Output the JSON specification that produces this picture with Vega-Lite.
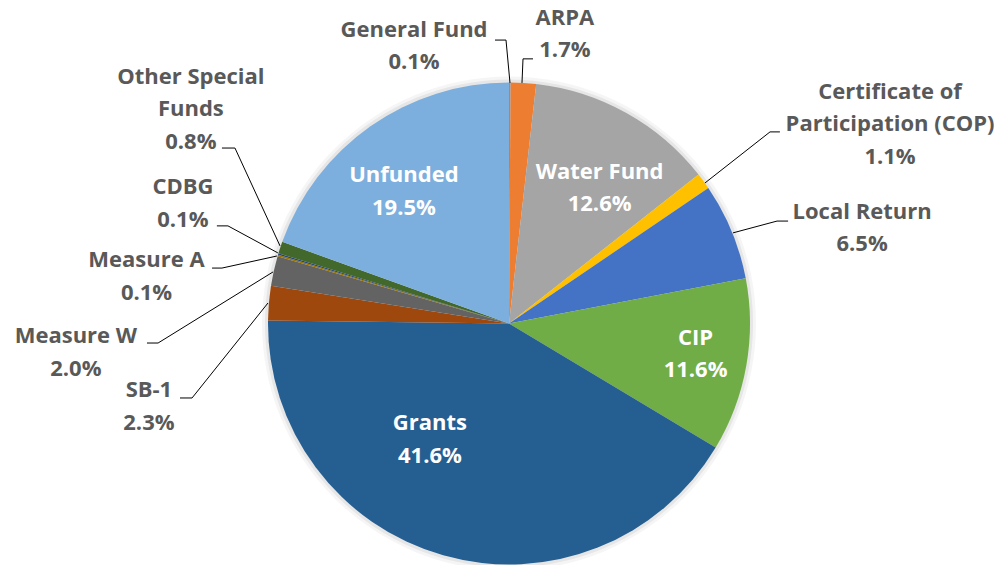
{
  "$schema": "https://vega.github.io/schema/vega-lite/v6.json",
  "width": 980,
  "height": 483,
  "padding": {"left": 19, "top": 82, "right": 0, "bottom": 0},
  "autosize": {"type": "none"},
  "background": "white",
  "config": {"view": {"stroke": null}},
  "datasets": {
    "funds": [
      {"idx": 1, "name": "General Fund", "display": "General Fund", "value": 0.1, "lx": -39.4, "ly": 121.8, "inside": false},
      {"idx": 2, "name": "ARPA", "display": "ARPA", "value": 1.7, "lx": 23.2, "ly": 126.8, "inside": false},
      {"idx": 3, "name": "Water Fund", "display": "Water Fund", "value": 12.6, "lx": 37.6, "ly": 62.9, "inside": true},
      {"idx": 4, "name": "Certificate of Participation (COP)", "display": "Certificate of\nParticipation (COP)", "value": 1.1, "lx": 158.1, "ly": 96.1, "inside": false},
      {"idx": 5, "name": "Local Return", "display": "Local Return", "value": 6.5, "lx": 146.5, "ly": 46.3, "inside": false},
      {"idx": 6, "name": "CIP", "display": "CIP", "value": 11.6, "lx": 77.4, "ly": -6.0, "inside": true},
      {"idx": 7, "name": "Grants", "display": "Grants", "value": 41.6, "lx": -32.8, "ly": -41.3, "inside": true},
      {"idx": 8, "name": "SB-1", "display": "SB-1", "value": 2.3, "lx": -149.4, "ly": -27.6, "inside": false},
      {"idx": 9, "name": "Measure W", "display": "Measure W", "value": 2.0, "lx": -179.7, "ly": -5.2, "inside": false},
      {"idx": 10, "name": "Measure A", "display": "Measure A", "value": 0.1, "lx": -150.4, "ly": 26.3, "inside": false},
      {"idx": 11, "name": "CDBG", "display": "CDBG", "value": 0.1, "lx": -135.3, "ly": 56.6, "inside": false},
      {"idx": 12, "name": "Other Special Funds", "display": "Other Special\nFunds", "value": 0.8, "lx": -132.0, "ly": 102.3, "inside": false},
      {"idx": 13, "name": "Unfunded", "display": "Unfunded", "value": 19.5, "lx": -43.6, "ly": 61.6, "inside": true}
    ],
    "leaders": [
      {"name": "General Fund", "seq": 1, "x": -5.81, "y": 117.6},
      {"name": "General Fund", "seq": 2, "x": -1.24, "y": 117.6},
      {"name": "General Fund", "seq": 3, "x": 0.41, "y": 99.8},
      {"name": "ARPA", "seq": 1, "x": 9.96, "y": 109.8},
      {"name": "ARPA", "seq": 2, "x": 5.81, "y": 109.8},
      {"name": "ARPA", "seq": 3, "x": 5.39, "y": 99.8},
      {"name": "Certificate of Participation (COP)", "seq": 1, "x": 112.4, "y": 79.5},
      {"name": "Certificate of Participation (COP)", "seq": 2, "x": 108.3, "y": 79.5},
      {"name": "Certificate of Participation (COP)", "seq": 3, "x": 81.3, "y": 58.3},
      {"name": "Local Return", "seq": 1, "x": 115.8, "y": 42.5},
      {"name": "Local Return", "seq": 2, "x": 111.2, "y": 42.5},
      {"name": "Local Return", "seq": 3, "x": 92.9, "y": 37.6},
      {"name": "Other Special Funds", "seq": 1, "x": -119.1, "y": 72.8},
      {"name": "Other Special Funds", "seq": 2, "x": -113.7, "y": 72.8},
      {"name": "Other Special Funds", "seq": 3, "x": -95.0, "y": 32.2},
      {"name": "CDBG", "seq": 1, "x": -121.2, "y": 40.5},
      {"name": "CDBG", "seq": 2, "x": -116.6, "y": 40.5},
      {"name": "CDBG", "seq": 3, "x": -95.9, "y": 29.3},
      {"name": "Measure A", "seq": 1, "x": -123.2, "y": 23.0},
      {"name": "Measure A", "seq": 2, "x": -119.1, "y": 23.0},
      {"name": "Measure A", "seq": 3, "x": -96.3, "y": 28.0},
      {"name": "Measure W", "seq": 1, "x": -150.2, "y": -8.1},
      {"name": "Measure W", "seq": 2, "x": -145.6, "y": -8.1},
      {"name": "Measure W", "seq": 3, "x": -97.9, "y": 21.4},
      {"name": "SB-1", "seq": 1, "x": -136.5, "y": -30.9},
      {"name": "SB-1", "seq": 2, "x": -131.5, "y": -30.9},
      {"name": "SB-1", "seq": 3, "x": -100.0, "y": 8.5}
    ]
  },
  "resolve": {"scale": {"color": "independent"}},
  "layer": [
    {
      "data": {"name": "funds"},
      "mark": {"type": "arc", "outerRadius": 247, "opacity": 0.04, "fill": "#000000"},
      "encoding": {"theta": {"aggregate": "sum", "field": "value", "type": "quantitative"}}
    },
    {
      "data": {"name": "funds"},
      "mark": {"type": "arc", "outerRadius": 244, "opacity": 0.06, "fill": "#000000"},
      "encoding": {"theta": {"aggregate": "sum", "field": "value", "type": "quantitative"}}
    },
    {
      "data": {"name": "funds"},
      "mark": {"type": "arc", "outerRadius": 241},
      "encoding": {
        "theta": {"field": "value", "type": "quantitative", "stack": true},
        "order": {"field": "idx", "type": "quantitative", "sort": "ascending"},
        "color": {
          "field": "name",
          "type": "nominal",
          "legend": null,
          "scale": {
            "domain": ["General Fund", "ARPA", "Water Fund", "Certificate of Participation (COP)", "Local Return", "CIP", "Grants", "SB-1", "Measure W", "Measure A", "CDBG", "Other Special Funds", "Unfunded"],
            "range": ["#5B9BD5", "#ED7D31", "#A5A5A5", "#FFC000", "#4472C4", "#70AD47", "#255E91", "#9E480E", "#636363", "#997300", "#264478", "#43682B", "#7CAFDD"]
          }
        }
      }
    },
    {
      "data": {"name": "leaders"},
      "mark": {"type": "line", "color": "#000000", "strokeWidth": 1},
      "encoding": {
        "x": {"field": "x", "type": "quantitative", "scale": {"domain": [-203.3, 203.3]}, "axis": null},
        "y": {"field": "y", "type": "quantitative", "scale": {"domain": [-100.2, 100.2]}, "axis": null},
        "detail": {"field": "name", "type": "nominal"},
        "order": {"field": "seq", "type": "quantitative"}
      }
    },
    {
      "data": {"name": "funds"},
      "transform": [
        {"calculate": "datum.display + '\\n' + format(datum.value, '.1f') + '%'", "as": "label"}
      ],
      "mark": {"type": "text", "font": "Open Sans", "fontWeight": "bold", "fontSize": 22, "lineHeight": 32.5, "lineBreak": "\n", "align": "center", "baseline": "middle"},
      "encoding": {
        "x": {"field": "lx", "type": "quantitative", "scale": {"domain": [-203.3, 203.3]}, "axis": null},
        "y": {"field": "ly", "type": "quantitative", "scale": {"domain": [-100.2, 100.2]}, "axis": null},
        "text": {"field": "label", "type": "nominal"},
        "color": {
          "field": "inside",
          "type": "nominal",
          "legend": null,
          "scale": {"domain": [true, false], "range": ["#FFFFFF", "#595959"]}
        }
      }
    }
  ]
}
